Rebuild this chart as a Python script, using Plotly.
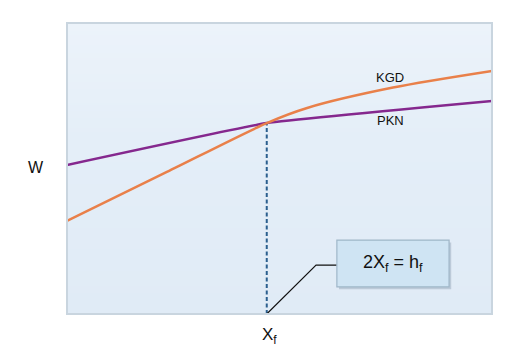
import plotly.graph_objects as go

# Data (arbitrary units, 0-10 on both axes)
kgd_x = [0, 2.35, 4.7, 5.65, 7.67, 10]
kgd_y = [3.2, 4.88, 6.56, 7.08, 7.78, 8.35]
pkn_x = [0, 4.7, 10]
pkn_y = [5.12, 6.56, 7.32]
xf = 4.7
xf_w = 6.56
box_x = [6.35, 8.99]
box_y = [0.93, 2.54]
leader_x = [xf, 5.86, 6.35]
leader_y = [0, 1.68, 1.68]

ORANGE = "#E9804A"
PURPLE = "#85288E"

fig = go.Figure()

# background gradient
bg_rows = [i / 10 for i in range(11)]
fig.add_trace(go.Heatmap(
    x=[0, 10], y=[r * 10 for r in bg_rows], z=[[r, r] for r in bg_rows],
    colorscale=[[0, "#e0ebf6"], [0.6, "#e4eef8"], [1, "#ecf3fa"]],
    showscale=False, hoverinfo="skip", zsmooth="best"))

fig.add_trace(go.Scatter(x=[xf, xf], y=[0, xf_w], mode="lines",
                         line=dict(color="#2b5f8e", width=2, dash="4px,2.5px"),
                         hoverinfo="skip", showlegend=False))
fig.add_trace(go.Scatter(x=pkn_x, y=pkn_y, mode="lines",
                         line=dict(color=PURPLE, width=2.5, shape="spline", smoothing=0.3),
                         showlegend=False))
fig.add_trace(go.Scatter(x=kgd_x, y=kgd_y, mode="lines",
                         line=dict(color=ORANGE, width=2.5, shape="spline", smoothing=0.8),
                         showlegend=False))
fig.add_trace(go.Scatter(x=leader_x, y=leader_y, mode="lines",
                         line=dict(color="#111111", width=1.2),
                         hoverinfo="skip", showlegend=False))

# box shadow + box
fig.add_shape(type="rect", x0=box_x[0] + 0.05, x1=box_x[1] + 0.05,
              y0=box_y[0] - 0.08, y1=box_y[1] - 0.08,
              fillcolor="rgba(120,140,160,0.35)", line=dict(width=0), layer="above")
fig.add_shape(type="rect", x0=box_x[0], x1=box_x[1], y0=box_y[0], y1=box_y[1],
              fillcolor="#cfe4f3", line=dict(color="#9fb6c8", width=1.2), layer="above")

fig.add_annotation(x=(box_x[0] + box_x[1]) / 2, y=(box_y[0] + box_y[1]) / 2,
                   xref="x", yref="y",
                   text="2X<sub>f</sub> = h<sub>f</sub>", showarrow=False,
                   font=dict(size=18, color="#111111"))
fig.add_annotation(x=7.61, y=8.12, xref="x", yref="y", text="KGD", showarrow=False,
                   font=dict(size=13, color="#111111"))
fig.add_annotation(x=7.61, y=6.65, xref="x", yref="y", text="PKN", showarrow=False,
                   font=dict(size=13, color="#111111"))
fig.add_annotation(x=-0.096, y=0.505, xref="paper", yref="paper", text="W", showarrow=False,
                   font=dict(size=16, color="#111111"))
fig.add_annotation(x=0.477, y=-0.12, xref="paper", yref="paper", text="X<sub>f</sub>",
                   showarrow=False, font=dict(size=17, color="#111111"))

fig.update_layout(
    width=518, height=364,
    margin=dict(l=59, r=34, t=15, b=58),
    paper_bgcolor="white", plot_bgcolor="#e4eef8",
    font=dict(family="Liberation Sans, Arial, sans-serif"),
    xaxis=dict(range=[0, 10], visible=False, fixedrange=True),
    yaxis=dict(range=[0, 10], visible=False, fixedrange=True),
    showlegend=False,
)
fig.add_shape(type="rect", xref="paper", yref="paper", x0=0, x1=1, y0=0, y1=1,
              line=dict(color="#c9d5df", width=2), layer="above")

fig.write_html("out.html")
